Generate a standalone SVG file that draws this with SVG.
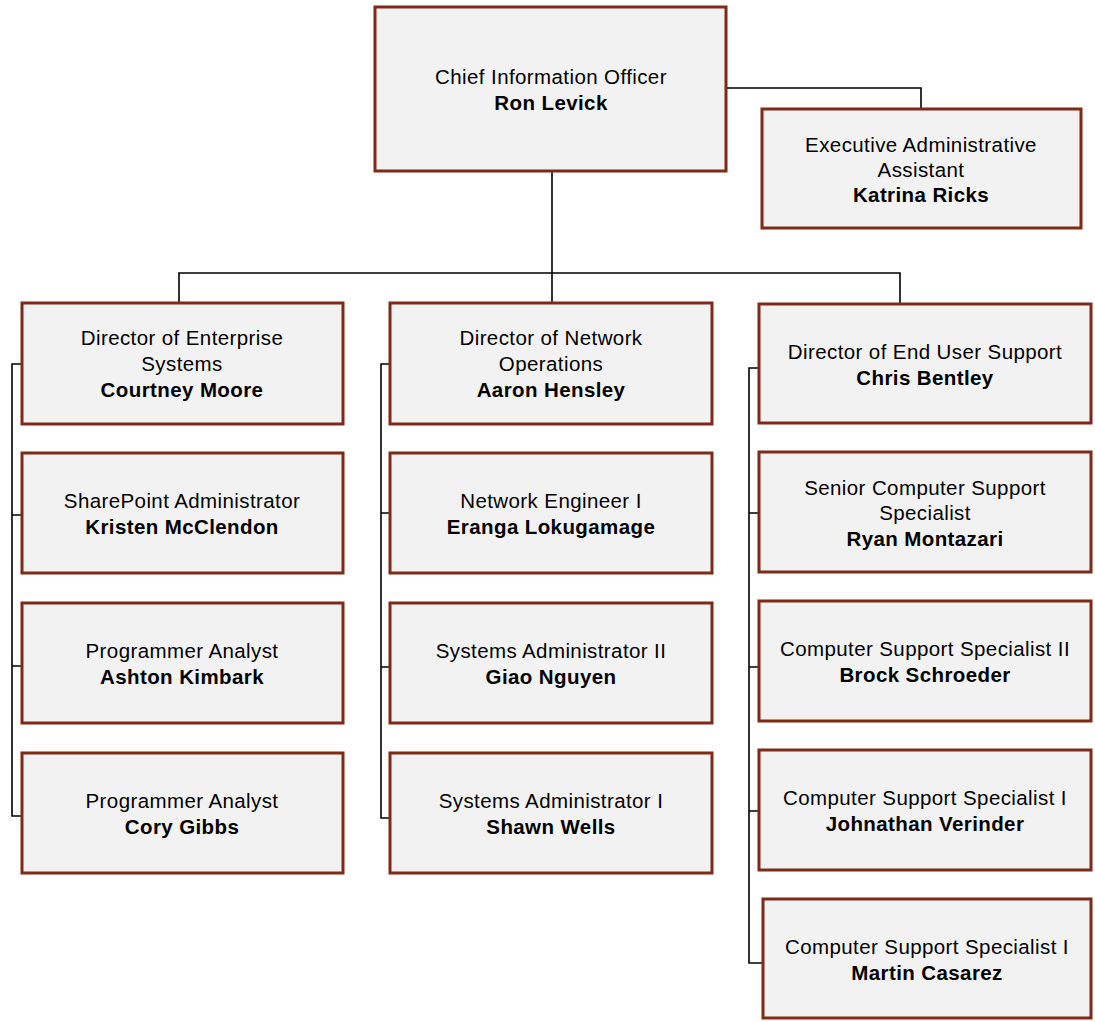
<svg xmlns="http://www.w3.org/2000/svg" width="1095" height="1022" viewBox="0 0 1095 1022">
<style>
.box{fill:#F2F2F2;stroke:#7F2A17;stroke-width:3}
.lnk{fill:none;stroke:#000;stroke-width:1.6}
text{font-family:"Liberation Sans",Arial,sans-serif;font-size:20.5px;letter-spacing:0.4px;fill:#000;text-anchor:middle}
.b{font-weight:bold}
</style>
<rect width="1095" height="1022" fill="#fff"/>
<g id="connectors">
<path class="lnk" d="M726,88H921V108"/>
<path class="lnk" d="M552,171V302"/>
<path class="lnk" d="M179,302V273H900V303"/>
<path class="lnk" d="M22,364H12V816H22M12,515H22M12,666H22"/>
<path class="lnk" d="M390,364H381V818H390M381,513H390M381,667H390"/>
<path class="lnk" d="M759,368H749V963H763M749,513H759M749,667H759M749,811H759"/>
</g>
<g id="cio"><rect class="box" x="375" y="7" width="351" height="164"/><text x="551" y="84">Chief Information Officer</text><text class="b" x="551" y="110">Ron Levick</text></g>
<g id="eaa"><rect class="box" x="762" y="109" width="319" height="119"/><text x="921" y="152">Executive Administrative</text><text x="921" y="177">Assistant</text><text class="b" x="921" y="202">Katrina Ricks</text></g>

<g id="dir-enterprise"><rect class="box" x="22" y="303" width="321" height="121"/><text x="182" y="345">Director of Enterprise</text><text x="182" y="371">Systems</text><text class="b" x="182" y="397">Courtney Moore</text></g>
<g id="sharepoint"><rect class="box" x="22" y="453" width="321" height="120"/><text x="182" y="508">SharePoint Administrator</text><text class="b" x="182" y="534">Kristen McClendon</text></g>
<g id="prog1"><rect class="box" x="22" y="603" width="321" height="120"/><text x="182" y="658">Programmer Analyst</text><text class="b" x="182" y="684">Ashton Kimbark</text></g>
<g id="prog2"><rect class="box" x="22" y="753" width="321" height="120"/><text x="182" y="808">Programmer Analyst</text><text class="b" x="182" y="834">Cory Gibbs</text></g>

<g id="dir-network"><rect class="box" x="390" y="303" width="322" height="121"/><text x="551" y="345">Director of Network</text><text x="551" y="371">Operations</text><text class="b" x="551" y="397">Aaron Hensley</text></g>
<g id="neteng"><rect class="box" x="390" y="453" width="322" height="120"/><text x="551" y="508">Network Engineer I</text><text class="b" x="551" y="534">Eranga Lokugamage</text></g>
<g id="sysadmin2"><rect class="box" x="390" y="603" width="322" height="120"/><text x="551" y="658">Systems Administrator II</text><text class="b" x="551" y="684">Giao Nguyen</text></g>
<g id="sysadmin1"><rect class="box" x="390" y="753" width="322" height="120"/><text x="551" y="808">Systems Administrator I</text><text class="b" x="551" y="834">Shawn Wells</text></g>

<g id="dir-enduser"><rect class="box" x="759" y="304" width="332" height="119"/><text x="925" y="359">Director of End User Support</text><text class="b" x="925" y="385">Chris Bentley</text></g>
<g id="senior-css"><rect class="box" x="759" y="452" width="332" height="120"/><text x="925" y="495">Senior Computer Support</text><text x="925" y="520">Specialist</text><text class="b" x="925" y="546">Ryan Montazari</text></g>
<g id="css2"><rect class="box" x="759" y="601" width="332" height="120"/><text x="925" y="656">Computer Support Specialist II</text><text class="b" x="925" y="682">Brock Schroeder</text></g>
<g id="css1a"><rect class="box" x="759" y="750" width="332" height="120"/><text x="925" y="805">Computer Support Specialist I</text><text class="b" x="925" y="831">Johnathan Verinder</text></g>
<g id="css1b"><rect class="box" x="763" y="899" width="328" height="119"/><text x="927" y="954">Computer Support Specialist I</text><text class="b" x="927" y="980">Martin Casarez</text></g>
</svg>
